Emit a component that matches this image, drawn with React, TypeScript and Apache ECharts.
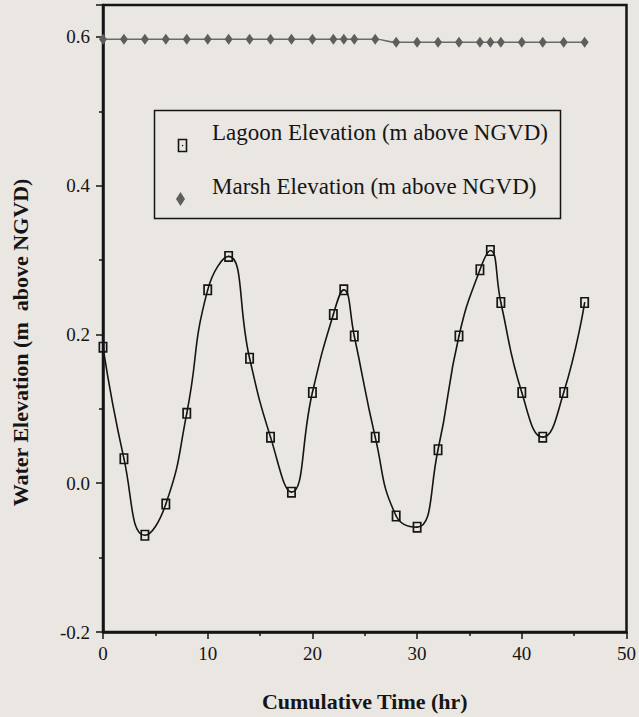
import React, { useEffect, useRef } from "react";
import * as echarts from "echarts";

// Data
const times = [0, 2, 4, 6, 8, 10, 12, 14, 16, 18, 20, 22, 23, 24, 26, 28, 30, 32, 34, 36, 37, 38, 40, 42, 44, 46];
const lagoon = [0.183, 0.033, -0.070, -0.028, 0.094, 0.260, 0.305, 0.168, 0.062, -0.012, 0.122, 0.227, 0.260, 0.198, 0.062, -0.044, -0.059, 0.045, 0.198, 0.287, 0.313, 0.243, 0.122, 0.062, 0.122, 0.243];
const marsh = [0.597, 0.597, 0.597, 0.597, 0.597, 0.597, 0.597, 0.597, 0.597, 0.597, 0.597, 0.597, 0.597, 0.597, 0.597, 0.593, 0.593, 0.593, 0.593, 0.593, 0.593, 0.593, 0.593, 0.593, 0.593, 0.593];
const seriesNames = ["Lagoon Elevation (m above NGVD)", "Marsh Elevation (m above NGVD)"];
const xTitle = "Cumulative Time (hr)";
const yTitle = "Water Elevation (m  above NGVD)";

const FONT = "'Liberation Serif', 'Times New Roman', serif";
const BG = "#eae6e2";
const INK = "#151515";
const GRAY = "#5e5e5e";

const lagoonSymbol = "path://M0,0H9V12H0Z M1.7,1.7V10.3H7.3V1.7Z M3.9,5.4H5.1V6.6H3.9Z";

export default function App() {
  const ref = useRef<HTMLDivElement>(null);
  useEffect(() => {
    if (!ref.current) return;
    const chart = echarts.init(ref.current, undefined, { renderer: "svg" });
    const lagoonData = times.map((t, i) => [t, lagoon[i]]);
    const marshData = times.map((t, i) => [t, marsh[i]]);
    chart.setOption({
      animation: false,
      backgroundColor: BG,
      grid: {
        left: 103,
        right: 9,
        top: 5,
        bottom: 85,
        show: true,
        borderColor: INK,
        borderWidth: 2.5,
        backgroundColor: "transparent",
      },
      xAxis: {
        type: "value",
        min: 0,
        max: 50,
        interval: 10,
        name: xTitle,
        nameLocation: "middle",
        nameGap: 58,
        nameTextStyle: { fontFamily: FONT, fontWeight: "bold", fontSize: 22, color: INK },
        axisLine: { show: true, onZero: false, lineStyle: { color: INK, width: 2.5 } },
        axisTick: { show: true, length: 7, lineStyle: { color: INK, width: 1.5 } },
        minorTick: { show: true, splitNumber: 2, length: 4, lineStyle: { color: INK, width: 1.5 } },
        splitLine: { show: false },
        axisLabel: { fontFamily: FONT, fontSize: 19, color: INK, margin: 12 },
      },
      yAxis: {
        type: "value",
        min: -0.2,
        max: 0.643,
        interval: 0.2,
        name: yTitle,
        nameLocation: "middle",
        nameGap: 72,
        nameTextStyle: {
          fontFamily: FONT,
          fontWeight: "bold",
          fontSize: 22,
          color: INK,
          padding: [0, 48, 0, 0],
        },
        axisLine: { show: true, onZero: false, lineStyle: { color: INK, width: 2.5 } },
        axisTick: { show: true, length: 7, lineStyle: { color: INK, width: 1.5 } },
        minorTick: { show: true, splitNumber: 2, length: 4, lineStyle: { color: INK, width: 1.5 } },
        splitLine: { show: false },
        axisLabel: {
          fontFamily: FONT,
          fontSize: 19,
          color: INK,
          margin: 13,
          showMaxLabel: false,
          formatter: (v: number) => (Math.abs(v * 5 - Math.round(v * 5)) < 1e-6 ? v.toFixed(1) : ""),
        },
      },
      graphic: [
        {
          type: "rect",
          left: 152,
          top: 108,
          shape: { width: 406, height: 108 },
          style: { fill: "none", stroke: INK, lineWidth: 1.5 },
          z: 10,
        },
        {
          type: "text",
          left: 212,
          top: 121,
          style: { text: seriesNames[0], font: `23px ${FONT}`, fill: INK },
          z: 10,
        },
        {
          type: "text",
          left: 212,
          top: 175,
          style: { text: seriesNames[1], font: `23px ${FONT}`, fill: INK },
          z: 10,
        },
        {
          type: "group",
          left: 176,
          top: 137,
          z: 10,
          children: [
            { type: "rect", shape: { x: 0, y: 0, width: 8, height: 12 }, style: { fill: "none", stroke: INK, lineWidth: 1.6 } },
            { type: "rect", shape: { x: 3.4, y: 5.4, width: 1.3, height: 1.3 }, style: { fill: INK } },
          ],
        },
        {
          type: "polygon",
          left: 176,
          top: 192,
          z: 10,
          shape: { points: [[4.5, 0], [9, 7], [4.5, 14], [0, 7]] },
          style: { fill: GRAY },
        },
      ],
      series: [
        {
          name: seriesNames[1],
          type: "line",
          data: marshData,
          smooth: 0.5,
          symbol: "diamond",
          symbolSize: [8, 11],
          itemStyle: { color: GRAY },
          lineStyle: { color: "#6a6a6a", width: 1.5 },
          z: 3,
        },
        {
          name: seriesNames[0],
          type: "line",
          data: lagoonData,
          smooth: 0.5,
          symbol: lagoonSymbol,
          symbolSize: [9, 11],
          itemStyle: { color: INK },
          lineStyle: { color: INK, width: 1.6 },
          z: 4,
        },
      ],
    });
    return () => chart.dispose();
  }, []);
  return <div ref={ref} style={{ width: 639, height: 717, position: "absolute", left: 0, top: 0 }} />;
}
